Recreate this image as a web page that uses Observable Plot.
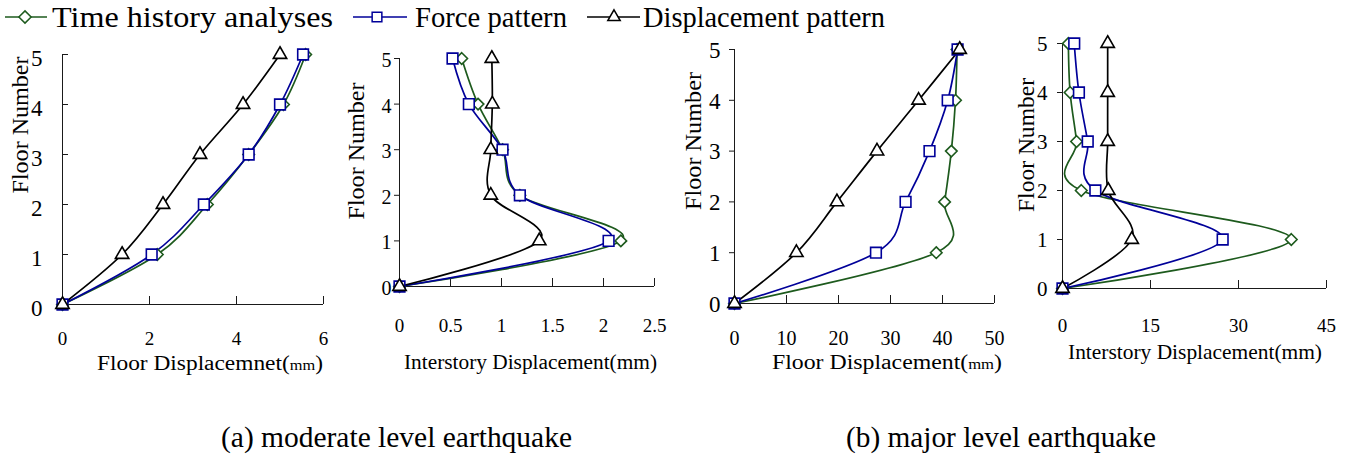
<!DOCTYPE html>
<html><head><meta charset="utf-8">
<script src="https://cdn.jsdelivr.net/npm/d3@7"></script>
<script src="https://cdn.jsdelivr.net/npm/@observablehq/plot@0.6"></script>
<style>
body{margin:0;background:#fff;}
#root{position:relative;width:1353px;height:462px;overflow:hidden;background:#fff;}
svg text, svg tspan{font-family:"Liberation Serif";}
</style></head><body><div id="root"></div>
<script>
// ---- data ----
const floors = [0, 1, 2, 3, 4, 5];
const seriesNames = ["Time history analyses", "Force pattern", "Displacement pattern"];
// (a) moderate level earthquake
const modFloorTH = [0, 2.18, 3.33, 4.28, 5.08, 5.59];
const modFloorFP = [0, 2.05, 3.25, 4.28, 5.00, 5.53];
const modFloorDP = [0, 1.37, 2.31, 3.16, 4.15, 5.00];
const modStoryTH = [0, 2.17, 1.18, 1.01, 0.77, 0.61];
const modStoryFP = [0, 2.05, 1.18, 1.01, 0.68, 0.52];
const modStoryDP = [0, 1.37, 0.895, 0.895, 0.91, 0.905];
// (b) major level earthquake
const majFloorTH = [0, 38.8, 40.4, 41.7, 42.5, 42.8];
const majFloorFP = [0, 27.2, 32.9, 37.5, 41.0, 42.9];
const majFloorDP = [0, 11.9, 19.7, 27.4, 35.4, 43.3];
const majStoryTH = [0, 39.0, 3.2, 2.4, 1.3, 1.0];
const majStoryFP = [0, 27.3, 5.6, 4.3, 2.8, 2.0];
const majStoryDP = [0, 11.8, 7.8, 7.7, 7.7, 7.7];
// tick labels
const xTicks1 = [0, 2, 4, 6];
const xTicks2 = [0, 0.5, 1, 1.5, 2, 2.5];
const xTicks3 = [0, 10, 20, 30, 40, 50];
const xTicks4 = [0, 15, 30, 45];
const yTitle = "Floor Number";
const xTitle1 = ["Floor Displacemnet(", "mm", ")"];
const xTitle2 = "Interstory Displacement(mm)";
const xTitle3 = ["Floor Displacement(", "mm", ")"];
const xTitle4 = "Interstory Displacement(mm)";
const captions = ["(a) moderate level earthquake", "(b) major level earthquake"];

// ---- style ----
const colors = ["#1d5a1d", "#000099", "#000000"];
const symbols = ["diamond2", "square2", "triangle2"];
const radii = [5.2, 6.8, 6.4];
const FONT = "Liberation Serif";
const root = document.getElementById("root");

function panel(cfg) {
  const {left, top, width, height, frame, xDomain, xTicks, series, yTickSize, xFont, yFont, xPad, yPad, yDy} = cfg;
  const [fx0, fx1, fy0, fy1] = frame;
  const marks = [
    Plot.ruleY([0], {stroke: "#1a1a1a"}),
    Plot.ruleX([0], {stroke: "#1a1a1a"}),
    Plot.axisX({ticks: xTicks, tickSize: -8, fill: "none", stroke: "#1a1a1a", label: null}),
    Plot.axisX({ticks: xTicks, tickSize: 0, tickPadding: xPad, fontSize: xFont, fontFamily: FONT, fill: "#000", tickFormat: d => String(d), label: null}),
    Plot.axisY({ticks: floors, tickSize: yTickSize, fill: "none", stroke: "#1a1a1a", label: null}),
    Plot.axisY({ticks: floors, tickSize: 0, tickPadding: yPad, fontSize: yFont, fontFamily: FONT, dy: yDy, fill: "#000", tickFormat: d => String(d), label: null})
  ];
  series.forEach((vals, i) => {
    const d = floors.map((f, j) => ({x: vals[j], y: f}));
    marks.push(Plot.line(d, {x: "x", y: "y", stroke: colors[i], strokeWidth: 1.7, curve: "cardinal"}));
  });
  series.forEach((vals, i) => {
    const d = floors.map((f, j) => ({x: vals[j], y: f}));
    marks.push(Plot.dot(d, {x: "x", y: "y", symbol: symbols[i], r: radii[i], stroke: colors[i], fill: "white", strokeWidth: 1.6}));
  });
  const svg = Plot.plot({
    width, height,
    marginLeft: fx0 - left, marginRight: left + width - fx1,
    marginTop: fy0 - top, marginBottom: top + height - fy1,
    x: {domain: xDomain, label: null},
    y: {domain: [0, 5], label: null},
    style: {fontFamily: FONT, background: "transparent", overflow: "visible"},
    marks
  });
  d3.select(svg).selectAll("text").attr("font-family", FONT);
  svg.style.position = "absolute";
  svg.style.left = left + "px";
  svg.style.top = top + "px";
  root.appendChild(svg);
}

panel({left: 0, top: 30, width: 340, height: 340, frame: [62, 323, 54, 304], xDomain: [0, 6], xTicks: xTicks1,
  series: [modFloorTH, modFloorFP, modFloorDP], yTickSize: -6, xFont: 19, yFont: 23, xPad: 27, yPad: 20, yDy: 4});
panel({left: 340, top: 30, width: 330, height: 340, frame: [399, 654, 58, 286], xDomain: [0, 2.5], xTicks: xTicks2,
  series: [modStoryTH, modStoryFP, modStoryDP], yTickSize: 5, xFont: 19, yFont: 20, xPad: 32, yPad: 8, yDy: 2});
panel({left: 670, top: 30, width: 340, height: 340, frame: [734, 994, 49, 303], xDomain: [0, 50], xTicks: xTicks3,
  series: [majFloorTH, majFloorFP, majFloorDP], yTickSize: 5, xFont: 20, yFont: 23, xPad: 27, yPad: 14, yDy: 1});
panel({left: 1005, top: 30, width: 348, height: 340, frame: [1062, 1326, 43, 288], xDomain: [0, 45], xTicks: xTicks4,
  series: [majStoryTH, majStoryFP, majStoryDP], yTickSize: 5, xFont: 19, yFont: 21, xPad: 30, yPad: 15, yDy: 1});

// ---- overlay for titles, legend, captions ----
const ov = d3.select(root).append("svg")
  .attr("width", 1353).attr("height", 462)
  .style("position", "absolute").style("left", "0px").style("top", "0px");

function txt(x, y, size, len) {
  const t = ov.append("text").attr("x", x).attr("y", y).attr("font-size", size).attr("font-family", FONT);
  if (len) t.attr("textLength", len).attr("lengthAdjust", "spacingAndGlyphs");
  return t;
}
function yTitleAt(cx, cy, size, len) {
  ov.append("text").attr("transform", `translate(${cx},${cy}) rotate(-90)`)
    .attr("text-anchor", "middle").attr("dominant-baseline", "central")
    .attr("textLength", len).attr("lengthAdjust", "spacingAndGlyphs")
    .attr("font-family", FONT).attr("font-size", size).text(yTitle);
}
yTitleAt(20, 125, 24, 137);
yTitleAt(356, 151, 24, 137);
yTitleAt(693, 141, 24, 138);
yTitleAt(1026, 145, 23.5, 134);

function xTitleParts(x, y, parts, size, small, len) {
  const t = txt(x, y, size, len);
  t.append("tspan").attr("font-family", FONT).text(parts[0]);
  t.append("tspan").attr("font-family", FONT).attr("font-size", small).text(parts[1]);
  t.append("tspan").attr("font-family", FONT).text(parts[2]);
}
xTitleParts(97, 370, xTitle1, 20, 14, 226);
xTitleParts(772, 369, xTitle3, 20, 14, 230);
txt(404, 369, 21.3, 253).text(xTitle2);
txt(1068, 359, 22, 254).text(xTitle4);

// legend
const legendItems = [
  {x0: 5, x1: 47, mx: 25, tx: 52, len: 281},
  {x0: 353, x1: 407, mx: 377, tx: 415, len: 152},
  {x0: 587, x1: 640, mx: 614, tx: 643, len: 242}
];
const legendSymbols = [d3.symbolDiamond2, d3.symbolSquare2, d3.symbolTriangle2];
const legendSizes = [95, 120, 110];
legendItems.forEach((it, i) => {
  ov.append("line").attr("x1", it.x0).attr("x2", it.x1).attr("y1", 17).attr("y2", 17)
    .attr("stroke", colors[i]).attr("stroke-width", 1.6);
  ov.append("path").attr("d", d3.symbol(legendSymbols[i], legendSizes[i])())
    .attr("transform", `translate(${it.mx},17)`)
    .attr("fill", "white").attr("stroke", colors[i]).attr("stroke-width", 1.5);
  txt(it.tx, 27, 30, it.len).text(seriesNames[i]);
});

// captions
txt(221, 447, 29, 351).text(captions[0]);
txt(846, 447, 29, 310).text(captions[1]);
</script></body></html>
